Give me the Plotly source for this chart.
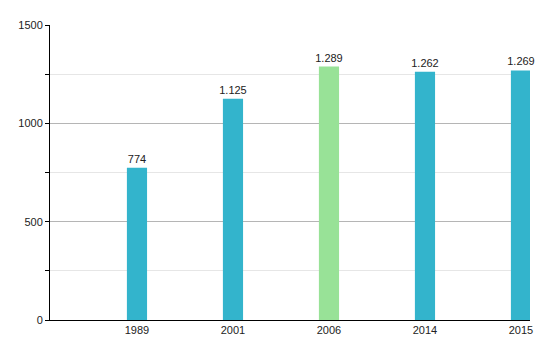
import plotly.graph_objects as go

years = ["1989", "2001", "2006", "2014", "2015"]
population = [774, 1125, 1289, 1262, 1269]
bar_colors = ["#33b4cc", "#33b4cc", "#98e297", "#33b4cc", "#33b4cc"]

positions = list(range(len(years)))

fig = go.Figure(
    go.Bar(
        x=positions,
        y=population,
        marker=dict(color=bar_colors, line=dict(width=0)),
        width=0.21,
        texttemplate="%{y:,}",
        textposition="outside",
        constraintext="none",
        textfont=dict(family="Liberation Sans, Arial, sans-serif", size=11, color="#222"),
        cliponaxis=False,
        hoverinfo="skip",
    )
)

fig.update_layout(
    width=550,
    height=350,
    margin=dict(l=50, r=20, t=25, b=30),
    paper_bgcolor="white",
    plot_bgcolor="white",
    separators=",.",
    showlegend=False,
    font=dict(family="Liberation Sans, Arial, sans-serif", size=11, color="#222"),
    xaxis=dict(
        tickmode="array",
        tickvals=positions,
        ticktext=years,
        range=[-0.906, 4.094],
        showgrid=False,
        showline=True,
        linecolor="#000",
        linewidth=1,
        ticks="",
        zeroline=False,
    ),
    yaxis=dict(
        range=[0, 1500],
        dtick=500,
        tickformat="d",
        showgrid=True,
        gridcolor="#b5b5b5",
        gridwidth=1,
        showline=True,
        linecolor="#000",
        linewidth=1,
        ticks="outside",
        ticklen=4,
        tickcolor="#000",
        zeroline=False,
        minor=dict(
            dtick=250,
            showgrid=True,
            gridcolor="#e6e6e6",
            ticks="outside",
            ticklen=4,
            tickcolor="#000",
        ),
    ),
)

fig.write_html("out.html")
